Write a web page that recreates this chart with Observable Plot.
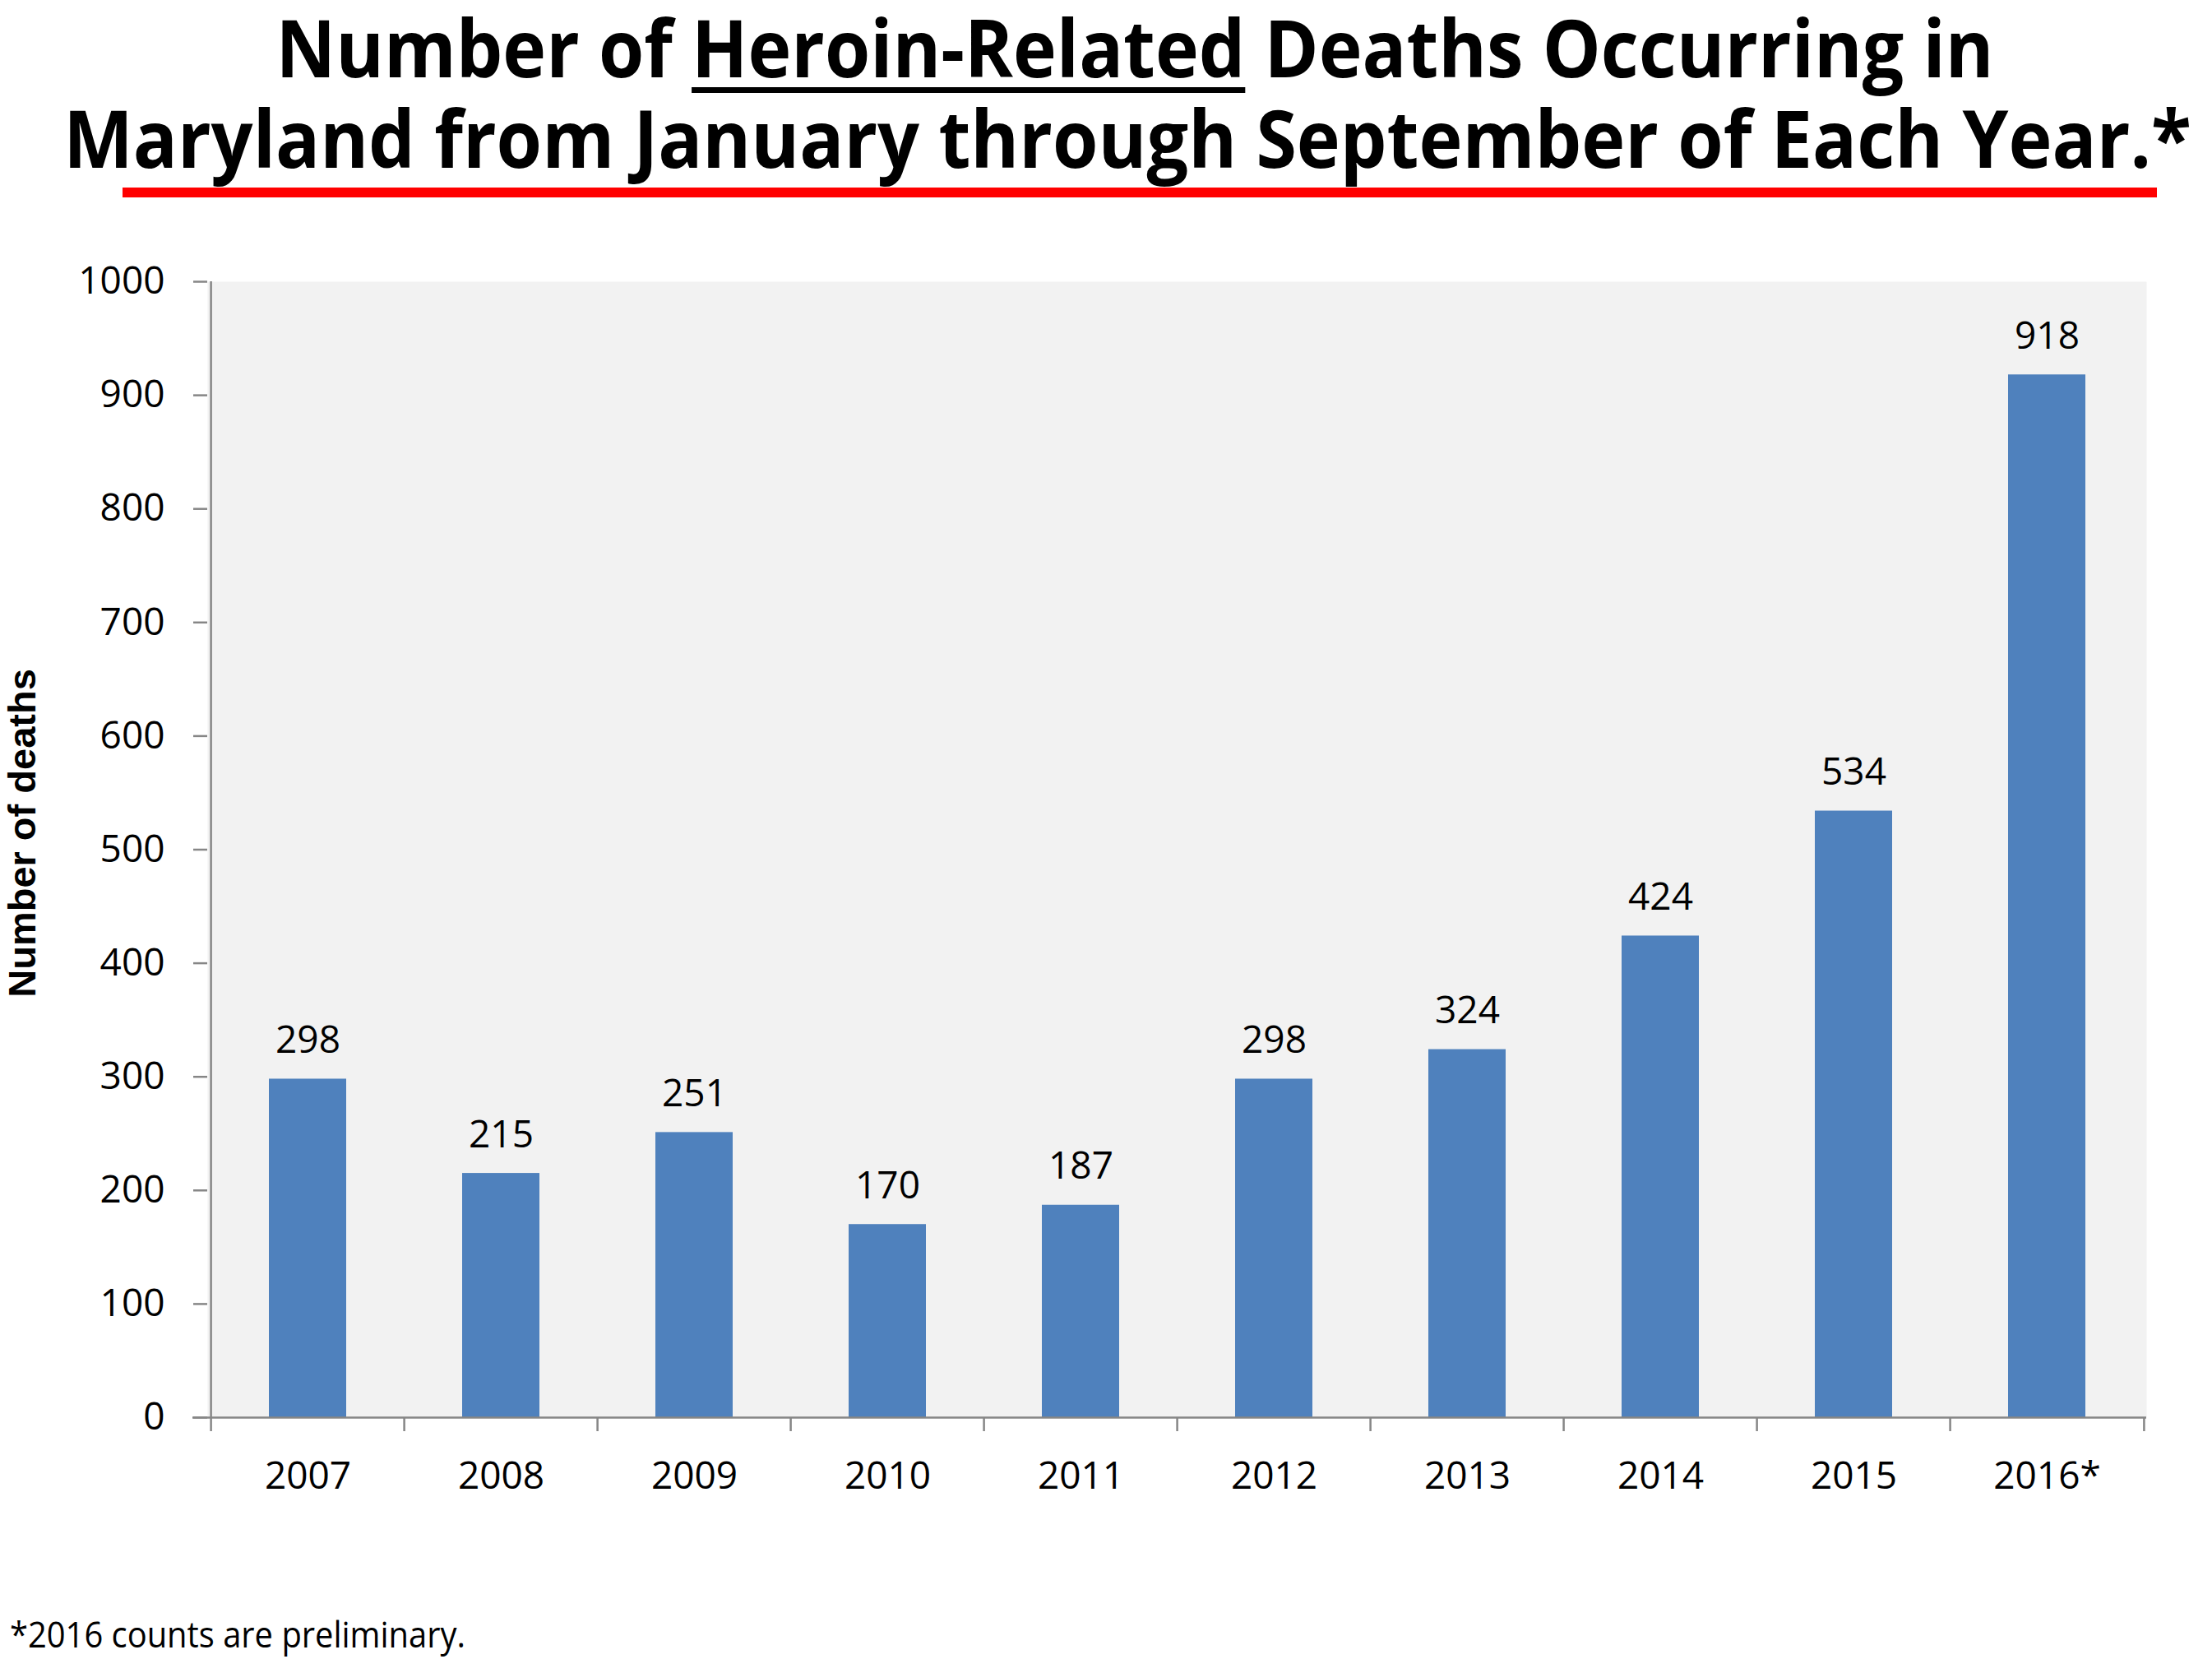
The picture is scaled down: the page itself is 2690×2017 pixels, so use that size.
<!DOCTYPE html>
<html>
<head>
<meta charset="utf-8">
<script src="https://cdn.jsdelivr.net/npm/d3@7"></script>
<script src="https://cdn.jsdelivr.net/npm/@observablehq/plot@0.6"></script>
<style>
html, body { margin: 0; padding: 0; background: #ffffff; }
#page { width: 2690px; height: 2017px; position: relative; overflow: hidden; background: #ffffff; }
#page svg { display: block; overflow: visible; }
</style>
</head>
<body>
<div id="page"></div>
<script>
// ---- data ----
const years = ["2007", "2008", "2009", "2010", "2011", "2012", "2013", "2014", "2015", "2016*"];
const deaths = [298, 215, 251, 170, 187, 298, 324, 424, 534, 918];
const yTicks = [0, 100, 200, 300, 400, 500, 600, 700, 800, 900, 1000];
const titleLine1 = "Number of Heroin-Related Deaths Occurring in";
const titleUnderlined = "Heroin-Related";
const titleLine2 = "Maryland from January through September of Each Year.*";
const yLabel = "Number of deaths";
const footnote = "*2016 counts are preliminary.";

const data = years.map((y, i) => ({year: y, deaths: deaths[i]}));

const W = 2690;
const page = d3.select("#page");

// ---- title ----
const tsvg = page.append("svg").attr("width", W).attr("height", 250);
function titleLine(baseline, cx, targetW, str, underlined) {
  const g = tsvg.append("g");
  const t = g.append("text")
    .attr("x", cx).attr("y", baseline)
    .attr("text-anchor", "middle")
    .attr("font-family", "'Open Sans'")
    .attr("font-weight", 700)
    .attr("font-size", 97)
    .attr("fill", "#000")
    .text(str);
  const node = t.node();
  const len = node.getComputedTextLength();
  const s = targetW / len;
  if (underlined) {
    const start = str.indexOf(underlined);
    const x0 = cx - len / 2 + (start > 0 ? node.getSubStringLength(0, start) : 0);
    const w = node.getSubStringLength(start, underlined.length);
    g.append("rect").attr("x", x0).attr("y", 106).attr("width", w).attr("height", 7).attr("fill", "#000");
  }
  g.attr("transform", `translate(${cx},0) scale(${s},1) translate(${-cx},0)`);
}
titleLine(94, 1380, 2089, titleLine1, titleUnderlined);
titleLine(204, 1371, 2588, titleLine2, null);
tsvg.append("rect").attr("x", 149).attr("y", 228).attr("width", 2474).attr("height", 12).attr("fill", "#FF0000");

// ---- chart ----
const ML = 252, MR = 80, MT = 92, MB = 177, H = 1650;
const step = (W - ML - MR) / years.length;
const frameH = H - MT - MB;
const gray = "#868686";

const chart = Plot.plot({
  width: W,
  height: H,
  marginLeft: ML,
  marginRight: MR,
  marginTop: MT,
  marginBottom: MB,
  style: {fontFamily: "'Open Sans'", fontSize: "46px", background: "transparent", color: "black", overflow: "visible"},
  x: {domain: years, paddingInner: 0.6, paddingOuter: 0.3, axis: null},
  y: {domain: [0, 1000], axis: null},
  marks: [
    Plot.frame({fill: "#F2F2F2", stroke: "none"}),
    Plot.barY(data, {x: "year", y: "deaths", fill: "#4F81BD"}),
    Plot.ruleY([0], {stroke: gray, strokeWidth: 2.5, insetLeft: -18}),
    Plot.ruleX([years[0]], {x: d => d, dx: -step / 2, stroke: gray, strokeWidth: 2.5, insetBottom: -17}),
    Plot.ruleX(years.slice(1), {x: d => d, dx: -step / 2, stroke: gray, strokeWidth: 2.5, insetTop: frameH, insetBottom: -17}),
    Plot.ruleX(years.slice(-1), {x: d => d, dx: step / 2, stroke: gray, strokeWidth: 2.5, insetTop: frameH, insetBottom: -17}),
    Plot.axisY(yTicks, {tickSize: 17, tickPadding: 35, tickFormat: d3.format("d"), stroke: gray, strokeWidth: 2.5, fill: "black", fontSize: 46, label: null}),
    Plot.axisX({tickSize: 0, tickPadding: 54, fontSize: 46, fill: "black", label: null}),
    Plot.text(data, {x: "year", y: "deaths", text: d => String(d.deaths), lineAnchor: "bottom", dy: -32, fontSize: 46, fill: "black"}),
    Plot.text([yLabel], {frameAnchor: "left", textAnchor: "middle", lineAnchor: "middle", dx: -225, dy: -20, rotate: -90, fontFamily: "'Liberation Sans'", fontWeight: "bold", fontSize: 47, fill: "black"})
  ]
});
page.node().appendChild(chart);

// ---- footnote ----
const fsvg = page.append("svg").attr("width", W).attr("height", 117);
fsvg.append("text")
  .attr("x", 12).attr("y", 103)
  .attr("font-family", "'Open Sans'")
  .attr("font-size", 44)
  .attr("textLength", 554)
  .attr("lengthAdjust", "spacingAndGlyphs")
  .attr("fill", "#000")
  .text(footnote);
</script>
</body>
</html>
